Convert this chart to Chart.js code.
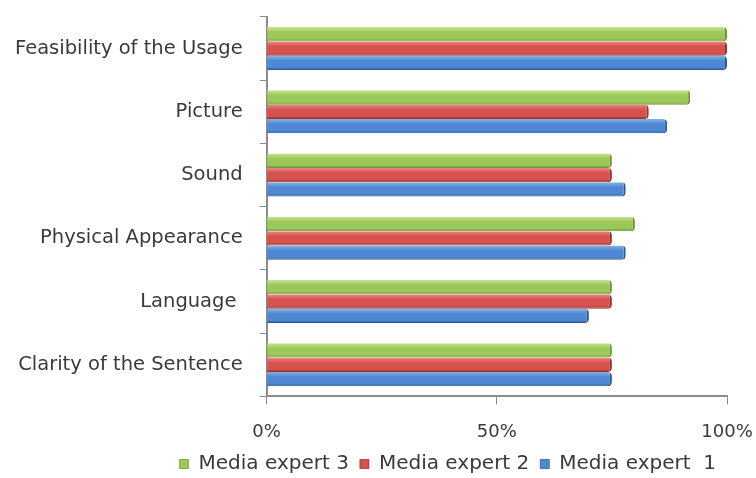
<!DOCTYPE html>
<html>
<head>
<meta charset="utf-8">
<script src="https://cdn.jsdelivr.net/npm/chart.js@4/dist/chart.umd.min.js"></script>
<style>
  html, body { margin: 0; padding: 0; background: #fff; }
  #wrap { width: 756px; height: 478px; }
</style>
</head>
<body>
<div id="wrap"><canvas id="chart"></canvas></div>
<script>
// Dados do gráfico
const categories = ['Feasibility of the Usage', 'Picture', 'Sound', 'Physical Appearance', 'Language ', 'Clarity of the Sentence'];
const expert3 = [100, 92, 75, 80, 75, 75];
const expert2 = [100, 83, 75, 75, 75, 75];
const expert1 = [100, 87, 78, 78, 70, 75];
const xTicks = [0, 50, 100];

// Cores: clara (topo), base, escura (borda inferior)
const palette = {
    green: ['#c6e38f', '#9cc859', '#6e9632'],
    red: ['#ec8784', '#d6524e', '#9b302d'],
    blue: ['#86b1e8', '#4f88d3', '#2c5b9a'],
};

// Plugin: aplica um degradê vertical em cada barra para imitar o efeito 3D
const shade3d = {
    id: 'shade3d',
    beforeDatasetsDraw(chart) {
        const ctx = chart.ctx;
        chart.data.datasets.forEach((ds, i) => {
            const meta = chart.getDatasetMeta(i);
            const c = ds.shade;
            meta.data.forEach(el => {
                const top = el.y - el.height / 2;
                const bottom = el.y + el.height / 2;
                const g = ctx.createLinearGradient(0, top, 0, bottom);
                g.addColorStop(0, c[0]);
                g.addColorStop(0.35, c[1]);
                g.addColorStop(0.8, c[1]);
                g.addColorStop(1, c[2]);
                el.options = Object.assign({}, el.options, { backgroundColor: g });
            });
        });
    }
};

function makeDataset(label, data, shade) {
    return {
        label: label,
        data: data,
        shade: shade,
        backgroundColor: shade[1],
        borderColor: shade[2],
        borderWidth: { top: 0, left: 0, bottom: 1, right: 2 },
        borderSkipped: false,
        borderRadius: { topRight: 4, bottomRight: 4, topLeft: 0, bottomLeft: 0 },
        barPercentage: 1,
        categoryPercentage: 0.68,
    };
}

const tickValues = xTicks.slice();
const textColor = '#3a3a3a';
const axisColor = '#8c8c8c';
const fontFamily = 'DejaVu Sans';
const xPad = 17;
const yPad = 17;

new Chart(document.getElementById('chart'), {
    type: 'bar',
    data: {
        labels: categories,
        datasets: [
            makeDataset('Media expert 3', expert3, palette.green),
            makeDataset('Media expert 2', expert2, palette.red),
            makeDataset('Media expert  1', expert1, palette.blue),
        ]
    },
    plugins: [shade3d],
    options: {
        indexAxis: 'y',
        responsive: true,
        maintainAspectRatio: false,
        animation: false,
        layout: { padding: { top: 17, right: 29, left: 15, bottom: -6 } },
        scales: {
            x: {
                min: 0,
                max: 100,
                afterBuildTicks: (axis) => { axis.ticks = tickValues.map(v => ({ value: v })); },
                // o Chart.js reserva o padding duas vezes; tira o excesso
                afterFit: (axis) => { axis.paddingRight = 0; axis.height -= xPad; },
                grid: { drawOnChartArea: false, drawTicks: true, tickLength: 8, color: axisColor },
                border: { display: true, color: axisColor, width: 2 },
                ticks: {
                    callback: (v) => v + '%',
                    color: textColor,
                    padding: xPad,
                    maxRotation: 0,
                    font: { family: fontFamily, size: 18 },
                },
            },
            y: {
                afterFit: (axis) => { axis.paddingTop = 0; axis.paddingBottom = 0; axis.width -= yPad; },
                grid: { drawOnChartArea: false, drawTicks: true, tickLength: 7, offset: true, color: axisColor },
                border: { display: true, color: axisColor, width: 2 },
                ticks: {
                    color: textColor,
                    padding: yPad,
                    font: { family: fontFamily, size: 19.5 },
                },
            }
        },
        plugins: {
            legend: {
                position: 'bottom',
                align: 'end',
                labels: {
                    boxWidth: 9,
                    boxHeight: 9,
                    padding: 11,
                    color: textColor,
                    font: { family: fontFamily, size: 20 },
                },
            },
            tooltip: { enabled: false },
        }
    }
});
</script>
</body>
</html>
